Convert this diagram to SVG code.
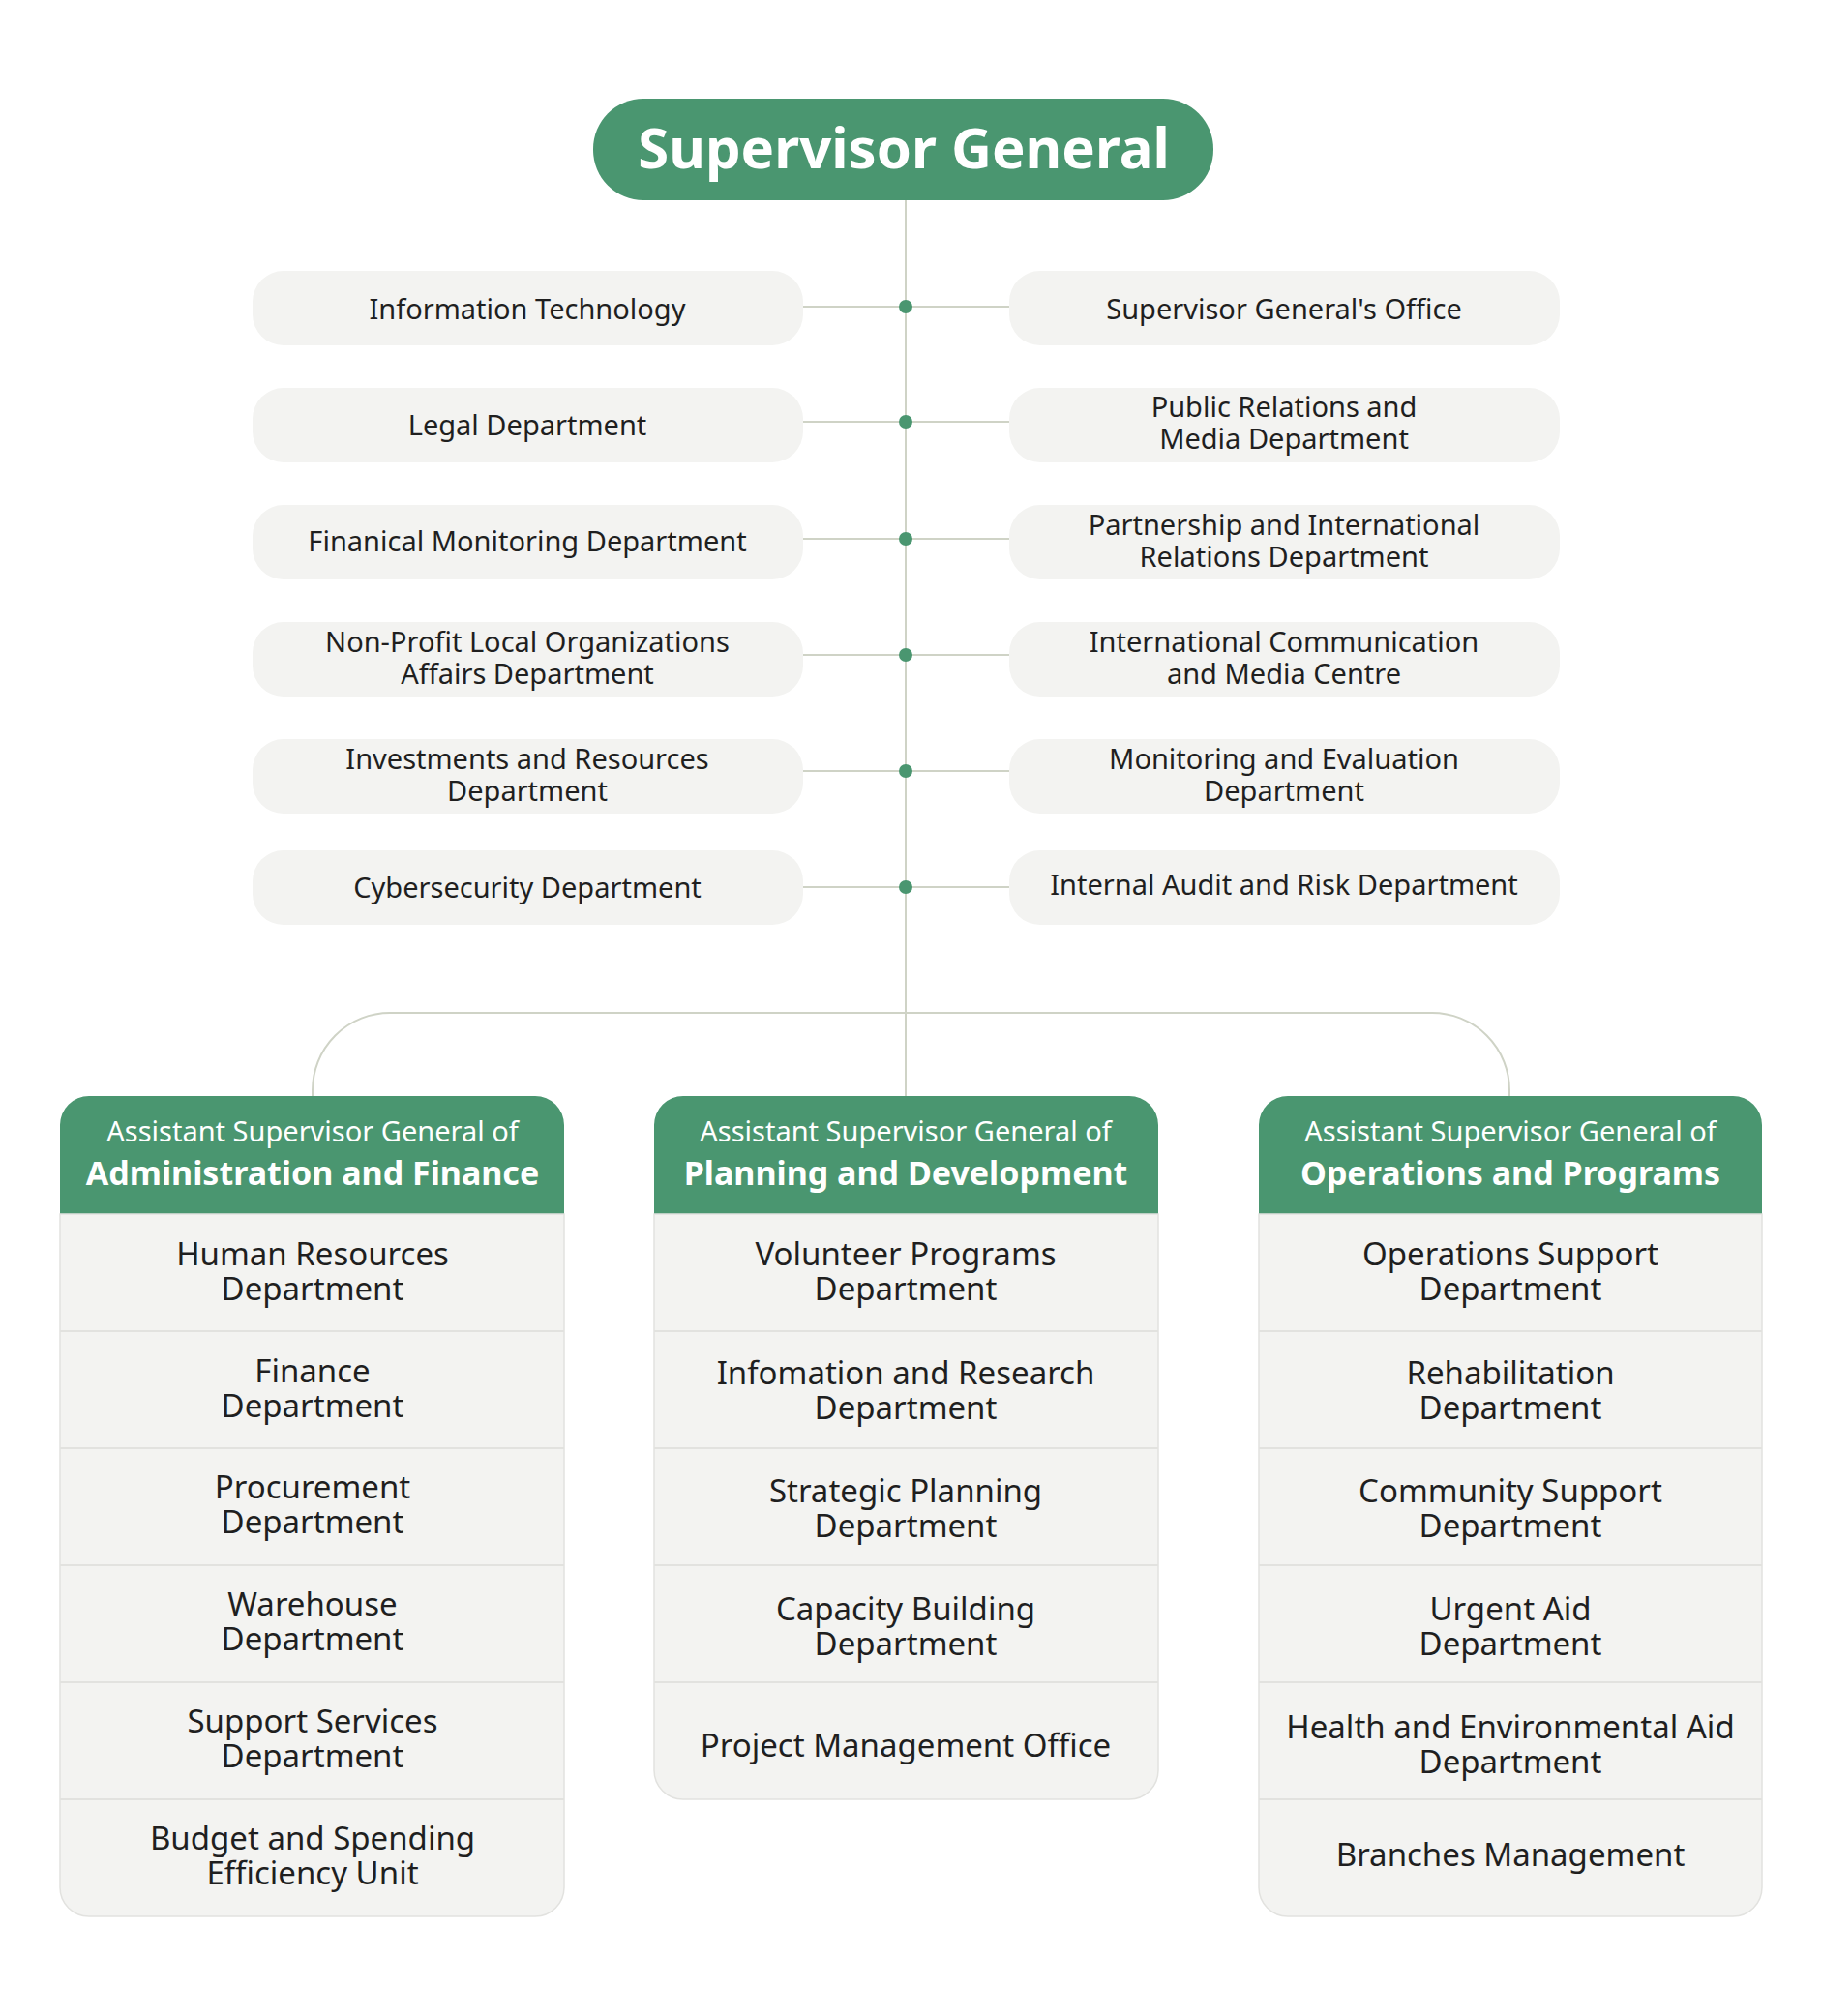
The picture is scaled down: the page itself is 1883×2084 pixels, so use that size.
<svg xmlns="http://www.w3.org/2000/svg" width="1883" height="2084" viewBox="0 0 1883 2084">
<style>
text{font-family:"Noto Sans","Liberation Sans",sans-serif;text-anchor:middle;fill:#1f1f1f}
.pill{fill:#f3f3f1}
.p{font-size:29px}
.r{font-size:33px}
.h1{font-size:29px;fill:#fff}
.h2{font-size:34px;font-weight:bold;fill:#fff}
.ln{stroke:#cfd3c6;stroke-width:2;fill:none}
.dot{fill:#4a9670}
.sep{stroke:#e2e2df;stroke-width:2}
</style>
<rect width="1883" height="2084" fill="#fff"/>
<g id="connectors">
<line class="ln" x1="936" y1="207" x2="936" y2="1133"/>
<path class="ln" d="M323 1133 V1127 A80 80 0 0 1 403 1047 H1480 A80 80 0 0 1 1560 1127 V1133"/>
<g>
<line class="ln" x1="830" y1="317" x2="1043" y2="317"/><circle class="dot" cx="936" cy="317" r="7"/>
<line class="ln" x1="830" y1="436" x2="1043" y2="436"/><circle class="dot" cx="936" cy="436" r="7"/>
<line class="ln" x1="830" y1="557" x2="1043" y2="557"/><circle class="dot" cx="936" cy="557" r="7"/>
<line class="ln" x1="830" y1="677" x2="1043" y2="677"/><circle class="dot" cx="936" cy="677" r="7"/>
<line class="ln" x1="830" y1="797" x2="1043" y2="797"/><circle class="dot" cx="936" cy="797" r="7"/>
<line class="ln" x1="830" y1="917" x2="1043" y2="917"/><circle class="dot" cx="936" cy="917" r="7"/>
</g>
</g>
<g id="supervisor-general">
<rect x="613" y="102" width="641" height="105" rx="52" fill="#4a9670"/>
<text x="934" y="174" style="font-size:58px;font-weight:bold;fill:#fff">Supervisor General</text>
</g>
<g id="it"><rect class="pill" x="261" y="280" width="569" height="77" rx="32"/><text class="p" x="545" y="330">Information Technology</text></g>
<g id="legal"><rect class="pill" x="261" y="401" width="569" height="77" rx="32"/><text class="p" x="545" y="450">Legal Department</text></g>
<g id="finmon"><rect class="pill" x="261" y="522" width="569" height="77" rx="32"/><text class="p" x="545" y="570">Finanical Monitoring Department</text></g>
<g id="nonprofit"><rect class="pill" x="261" y="643" width="569" height="77" rx="32"/><text class="p" x="545" y="674">Non-Profit Local Organizations</text><text class="p" x="545" y="707">Affairs Department</text></g>
<g id="invest"><rect class="pill" x="261" y="764" width="569" height="77" rx="32"/><text class="p" x="545" y="795">Investments and Resources</text><text class="p" x="545" y="828">Department</text></g>
<g id="cyber"><rect class="pill" x="261" y="879" width="569" height="77" rx="32"/><text class="p" x="545" y="928">Cybersecurity Department</text></g>
<g id="sgoffice"><rect class="pill" x="1043" y="280" width="569" height="77" rx="32"/><text class="p" x="1327" y="330">Supervisor General's Office</text></g>
<g id="pr"><rect class="pill" x="1043" y="401" width="569" height="77" rx="32"/><text class="p" x="1327" y="431">Public Relations and</text><text class="p" x="1327" y="464">Media Department</text></g>
<g id="partner"><rect class="pill" x="1043" y="522" width="569" height="77" rx="32"/><text class="p" x="1327" y="553">Partnership and International</text><text class="p" x="1327" y="586">Relations Department</text></g>
<g id="intcomm"><rect class="pill" x="1043" y="643" width="569" height="77" rx="32"/><text class="p" x="1327" y="674">International Communication</text><text class="p" x="1327" y="707">and Media Centre</text></g>
<g id="monitoring"><rect class="pill" x="1043" y="764" width="569" height="77" rx="32"/><text class="p" x="1327" y="795">Monitoring and Evaluation</text><text class="p" x="1327" y="828">Department</text></g>
<g id="audit"><rect class="pill" x="1043" y="879" width="569" height="77" rx="32"/><text class="p" x="1327" y="925">Internal Audit and Risk Department</text></g>

<g id="col-admin">
<path d="M62 1163 A30 30 0 0 1 92 1133 H553 A30 30 0 0 1 583 1163 V1255 H62 Z" fill="#4a9670"/>
<path d="M62 1255 H583 V1951 A30 30 0 0 1 553 1981 H92 A30 30 0 0 1 62 1951 Z" fill="#f3f3f1" stroke="#e2e2df" stroke-width="1.5"/>
<text class="h1" x="323" y="1180">Assistant Supervisor General of</text>
<text class="h2" x="323" y="1225">Administration and Finance</text>
<line class="sep" x1="62" y1="1376" x2="583" y2="1376"/><line class="sep" x1="62" y1="1497" x2="583" y2="1497"/><line class="sep" x1="62" y1="1618" x2="583" y2="1618"/><line class="sep" x1="62" y1="1739" x2="583" y2="1739"/><line class="sep" x1="62" y1="1860" x2="583" y2="1860"/>
<text class="r" x="323" y="1308">Human Resources</text><text class="r" x="323" y="1344">Department</text>
<text class="r" x="323" y="1429">Finance</text><text class="r" x="323" y="1465">Department</text>
<text class="r" x="323" y="1549">Procurement</text><text class="r" x="323" y="1585">Department</text>
<text class="r" x="323" y="1670">Warehouse</text><text class="r" x="323" y="1706">Department</text>
<text class="r" x="323" y="1791">Support Services</text><text class="r" x="323" y="1827">Department</text>
<text class="r" x="323" y="1912">Budget and Spending</text><text class="r" x="323" y="1948">Efficiency Unit</text>
</g>
<g id="col-planning">
<path d="M676 1163 A30 30 0 0 1 706 1133 H1167 A30 30 0 0 1 1197 1163 V1255 H676 Z" fill="#4a9670"/>
<path d="M676 1255 H1197 V1830 A30 30 0 0 1 1167 1860 H706 A30 30 0 0 1 676 1830 Z" fill="#f3f3f1" stroke="#e2e2df" stroke-width="1.5"/>
<text class="h1" x="936" y="1180">Assistant Supervisor General of</text>
<text class="h2" x="936" y="1225">Planning and Development</text>
<line class="sep" x1="676" y1="1376" x2="1197" y2="1376"/><line class="sep" x1="676" y1="1497" x2="1197" y2="1497"/><line class="sep" x1="676" y1="1618" x2="1197" y2="1618"/><line class="sep" x1="676" y1="1739" x2="1197" y2="1739"/>
<text class="r" x="936" y="1308">Volunteer Programs</text><text class="r" x="936" y="1344">Department</text>
<text class="r" x="936" y="1431">Infomation and Research</text><text class="r" x="936" y="1467">Department</text>
<text class="r" x="936" y="1553">Strategic Planning</text><text class="r" x="936" y="1589">Department</text>
<text class="r" x="936" y="1675">Capacity Building</text><text class="r" x="936" y="1711">Department</text>
<text class="r" x="936" y="1816">Project Management Office</text>
</g>
<g id="col-operations">
<path d="M1301 1163 A30 30 0 0 1 1331 1133 H1791 A30 30 0 0 1 1821 1163 V1255 H1301 Z" fill="#4a9670"/>
<path d="M1301 1255 H1821 V1951 A30 30 0 0 1 1791 1981 H1331 A30 30 0 0 1 1301 1951 Z" fill="#f3f3f1" stroke="#e2e2df" stroke-width="1.5"/>
<text class="h1" x="1561" y="1180">Assistant Supervisor General of</text>
<text class="h2" x="1561" y="1225">Operations and Programs</text>
<line class="sep" x1="1301" y1="1376" x2="1821" y2="1376"/><line class="sep" x1="1301" y1="1497" x2="1821" y2="1497"/><line class="sep" x1="1301" y1="1618" x2="1821" y2="1618"/><line class="sep" x1="1301" y1="1739" x2="1821" y2="1739"/><line class="sep" x1="1301" y1="1860" x2="1821" y2="1860"/>
<text class="r" x="1561" y="1308">Operations Support</text><text class="r" x="1561" y="1344">Department</text>
<text class="r" x="1561" y="1431">Rehabilitation</text><text class="r" x="1561" y="1467">Department</text>
<text class="r" x="1561" y="1553">Community Support</text><text class="r" x="1561" y="1589">Department</text>
<text class="r" x="1561" y="1675">Urgent Aid</text><text class="r" x="1561" y="1711">Department</text>
<text class="r" x="1561" y="1797">Health and Environmental Aid</text><text class="r" x="1561" y="1833">Department</text>
<text class="r" x="1561" y="1929">Branches Management</text>
</g>
</svg>
